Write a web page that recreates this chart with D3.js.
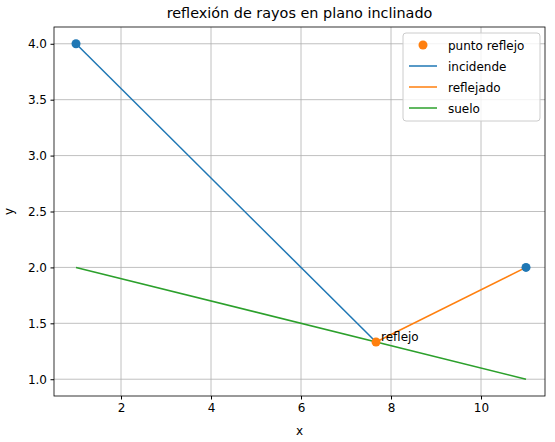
<!DOCTYPE html><html><head><meta charset="utf-8"><script src="https://cdn.jsdelivr.net/npm/d3@7"></script>
<style>body{margin:0;background:#fff}text{font-family:"DejaVu Sans",sans-serif}</style></head><body><svg id="c" width="555" height="442"></svg><script>
const endpoints=[[1,4],[11,2]];
const reflectPoint=[[7.667,1.333]];
const incident=[[1,4],[7.667,1.333]];
const reflected=[[7.667,1.333],[11,2]];
const ground=[[1,2],[11,1]];
const xTicks=[2,4,6,8,10];
const yTicks=[1.0,1.5,2.0,2.5,3.0,3.5,4.0];
const svg=d3.select("#c");
const L=54,R=545,T=27,B=396;
const x=d3.scaleLinear().domain([0.511,11.422]).range([L,R]);
const y=d3.scaleLinear().domain([0.85,4.15]).range([B,T]);
const g=svg.append("g");
g.selectAll(".gx").data(xTicks).join("line").attr("x1",d=>x(d)).attr("x2",d=>x(d)).attr("y1",T).attr("y2",B).attr("stroke","#b0b0b0").attr("stroke-width",0.8);
g.selectAll(".gy").data(yTicks).join("line").attr("y1",d=>y(d)).attr("y2",d=>y(d)).attr("x1",L).attr("x2",R).attr("stroke","#b0b0b0").attr("stroke-width",0.8);
svg.append("g").attr("transform",`translate(0,${B})`).call(d3.axisBottom(x).tickValues(xTicks).tickSize(3.5).tickPadding(3.5)).call(a=>a.select(".domain").remove()).selectAll("text").attr("font-size",12);
svg.append("g").attr("transform",`translate(${L},0)`).call(d3.axisLeft(y).tickValues(yTicks).tickFormat(d3.format(".1f")).tickSize(3.5).tickPadding(3.5)).call(a=>a.select(".domain").remove()).selectAll("text").attr("font-size",12);
svg.selectAll(".tick text").attr("fill","#000");svg.selectAll(".tick line").attr("stroke","#000");
svg.append("rect").attr("x",L).attr("y",T).attr("width",R-L).attr("height",B-T).attr("fill","none").attr("stroke","#000").attr("stroke-width",0.8);
const line=d3.line().x(d=>x(d[0])).y(d=>y(d[1]));
svg.append("path").attr("d",line(incident)).attr("stroke","#1f77b4").attr("stroke-width",1.5).attr("fill","none");
svg.append("path").attr("d",line(reflected)).attr("stroke","#ff7f0e").attr("stroke-width",1.5).attr("fill","none");
svg.append("path").attr("d",line(ground)).attr("stroke","#2ca02c").attr("stroke-width",1.5).attr("fill","none");
svg.selectAll(".ep").data(endpoints).join("circle").attr("cx",d=>x(d[0])).attr("cy",d=>y(d[1])).attr("r",4.5).attr("fill","#1f77b4");
svg.selectAll(".rp").data(reflectPoint).join("circle").attr("cx",d=>x(d[0])).attr("cy",d=>y(d[1])).attr("r",4.5).attr("fill","#ff7f0e");
svg.append("text").attr("x",x(7.667)+5).attr("y",y(1.333)-1).attr("font-size",12).text("reflejo");
svg.append("text").attr("x",(L+R)/2).attr("y",T-9).attr("text-anchor","middle").attr("font-size",14.4).text("reflexión de rayos en plano inclinado");
svg.append("text").attr("x",(L+R)/2).attr("y",435).attr("text-anchor","middle").attr("font-size",12).text("x");
svg.append("text").attr("transform",`translate(13,${(T+B)/2}) rotate(-90)`).attr("text-anchor","middle").attr("font-size",12).text("y");
const lg=svg.append("g").attr("transform","translate(403,33)");
lg.append("rect").attr("width",137).attr("height",88).attr("rx",3).attr("fill","#fff").attr("fill-opacity",0.8).attr("stroke","#ccc");
const items=[["punto reflejo","#ff7f0e","pt"],["incidende","#1f77b4","ln"],["reflejado","#ff7f0e","ln"],["suelo","#2ca02c","ln"]];
items.forEach((it,i)=>{const yy=12+i*21;
if(it[2]=="pt")lg.append("circle").attr("cx",20).attr("cy",yy).attr("r",4.5).attr("fill",it[1]);
else lg.append("line").attr("x1",6).attr("x2",34).attr("y1",yy).attr("y2",yy).attr("stroke",it[1]).attr("stroke-width",1.5);
lg.append("text").attr("x",45).attr("y",yy+4.5).attr("font-size",12).text(it[0]);});
</script></body></html>
